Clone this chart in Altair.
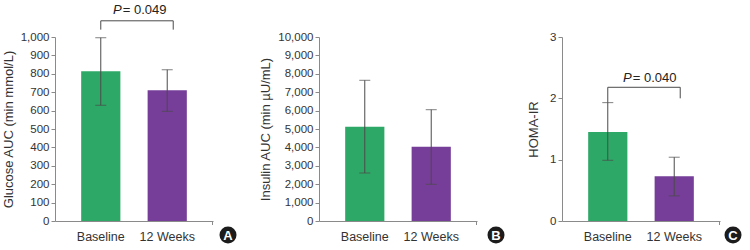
import altair as alt
import pandas as pd

groups = ["Baseline", "12 Weeks"]
colors = ["#2ea866", "#763e98"]

glucose_mean = [814, 710]
glucose_lo = [629, 596]
glucose_hi = [996, 822]

insulin_mean = [5125, 4038]
insulin_lo = [2609, 1994]
insulin_hi = [7647, 6049]

homa_mean = [1.45, 0.73]
homa_lo = [0.99, 0.41]
homa_hi = [1.93, 1.04]

FONT = "Liberation Sans"
AX = "#8a8a8a"
ERR = "#4a4a4a"
W, H = 158, 184


def panel(mean, lo, hi, ymax, ystep, fmt, title, letter, letter_x, tpad, bracket=None):
    df = pd.DataFrame({"group": groups, "mean": mean, "lo": lo, "hi": hi})
    xs = alt.Scale(domain=groups, paddingInner=0.41, paddingOuter=0.394)
    ys = alt.Scale(domain=[0, ymax], nice=False, zero=True)
    ticks = [round(i * ystep, 6) for i in range(int(round(ymax / ystep)) + 1)]
    xax = alt.Axis(labelAngle=0, ticks=False, labelPadding=9, labelFontSize=12.5,
                   labelColor="#333", domainColor=AX, labelFont=FONT)
    yax = alt.Axis(values=ticks, format=fmt, grid=False, domainColor=AX, tickColor=AX,
                   tickSize=4, labelFontSize=11.5, labelColor="#333", labelFont=FONT,
                   labelOverlap=False, labelFlush=False,
                   titleFont=FONT, titleFontSize=13, titleFontWeight="normal",
                   titleColor="#333", labelPadding=2, titlePadding=tpad)

    def X(f):
        return alt.X(f, scale=xs, axis=xax, title=None)

    def Y(f):
        return alt.Y(f, scale=ys, axis=yax, title=title)

    base = alt.Chart(df)
    bars = base.mark_bar(clip=False).encode(
        x=X("group:N"), y=Y("mean:Q"),
        color=alt.Color("group:N", scale=alt.Scale(domain=groups, range=colors), legend=None))
    err = base.mark_rule(color=ERR, strokeWidth=1).encode(
        x=X("group:N"), y=Y("lo:Q"), y2="hi:Q")
    cap_hi = base.mark_tick(color=ERR, size=11, thickness=1).encode(x=X("group:N"), y=Y("hi:Q"))
    cap_lo = base.mark_tick(color=ERR, size=11, thickness=1).encode(x=X("group:N"), y=Y("lo:Q"))
    one = alt.Chart(pd.DataFrame({"k": [letter]}))
    end_tick = one.mark_rule(color=AX).encode(x=alt.value(W - 0.5), y=alt.value(H), y2=alt.value(H + 4))
    circ = one.mark_circle(size=290, color="#1c1c1c", opacity=1).encode(
        x=alt.value(letter_x), y=alt.value(H + 14))
    letter_t = one.mark_text(color="white", fontWeight="bold", fontSize=13, font="Liberation Sans",
                             baseline="middle", align="center").encode(
        x=alt.value(letter_x), y=alt.value(H + 14.5), text="k:N")
    filler = one.mark_text(opacity=0, fontSize=13, font=FONT, baseline="alphabetic").encode(
        x=alt.value(W / 2), y=alt.value(-23), text=alt.value("P"))
    layers = [bars, err, cap_hi, cap_lo, end_tick, circ, letter_t, filler]
    if bracket is not None:
        yb, yl_left, yl_right, yt, ptxt, split = bracket
        bd = pd.DataFrame({"group": ["Baseline"], "group2": ["12 Weeks"], "yb": [yb],
                           "yl": [yl_left], "yr": [yl_right], "yt": [yt],
                           "p": ["P"], "v": [ptxt]})
        bb = alt.Chart(bd)
        hline = bb.mark_rule(color=ERR, x2Offset=6).encode(
            x=X("group:N"), x2="group2:N", y=Y("yb:Q"))
        lline = bb.mark_rule(color=ERR).encode(x=X("group:N"), y=Y("yl:Q"), y2="yb:Q")
        rline = bb.mark_rule(color=ERR, xOffset=6).encode(x=X("group2:N"), y=Y("yr:Q"), y2="yb:Q")
        ptext = bb.mark_text(fontStyle="italic", fontSize=13, font=FONT, align="right",
                             baseline="alphabetic", dx=split, color="#222").encode(
            x=X("group:N"), y=Y("yt:Q"), text="p:N")
        vtext = bb.mark_text(fontSize=13, font=FONT, align="left",
                             baseline="alphabetic", dx=split + 1, color="#222").encode(
            x=X("group:N"), y=Y("yt:Q"), text="v:N")
        layers += [hline, lline, rline, ptext, vtext]
    return alt.layer(*layers).properties(width=W, height=H)


pa = panel(glucose_mean, glucose_lo, glucose_hi, 1000, 100, ",d", "Glucose AUC (min mmol/L)",
           "A", 173, 5, bracket=(1088, 1040, 1040, 1125, "= 0.049", 21))
pb = panel(insulin_mean, insulin_lo, insulin_hi, 10000, 1000, ",d", "Insulin AUC (min µU/mL)",
           "B", 177, 5)
pc = panel(homa_mean, homa_lo, homa_hi, 3, 1, "d", "HOMA-IR",
           "C", 171, 9.5, bracket=(2.18, 1.93, 2.0, 2.27, "= 0.040", 24))

chart = alt.hconcat(pa, pb, pc, spacing=22).configure_view(stroke=None).properties(
    padding={"left": 2, "top": 4, "right": 0, "bottom": 0})

chart.save("out.html", embed_options={"renderer": "svg", "actions": False})
